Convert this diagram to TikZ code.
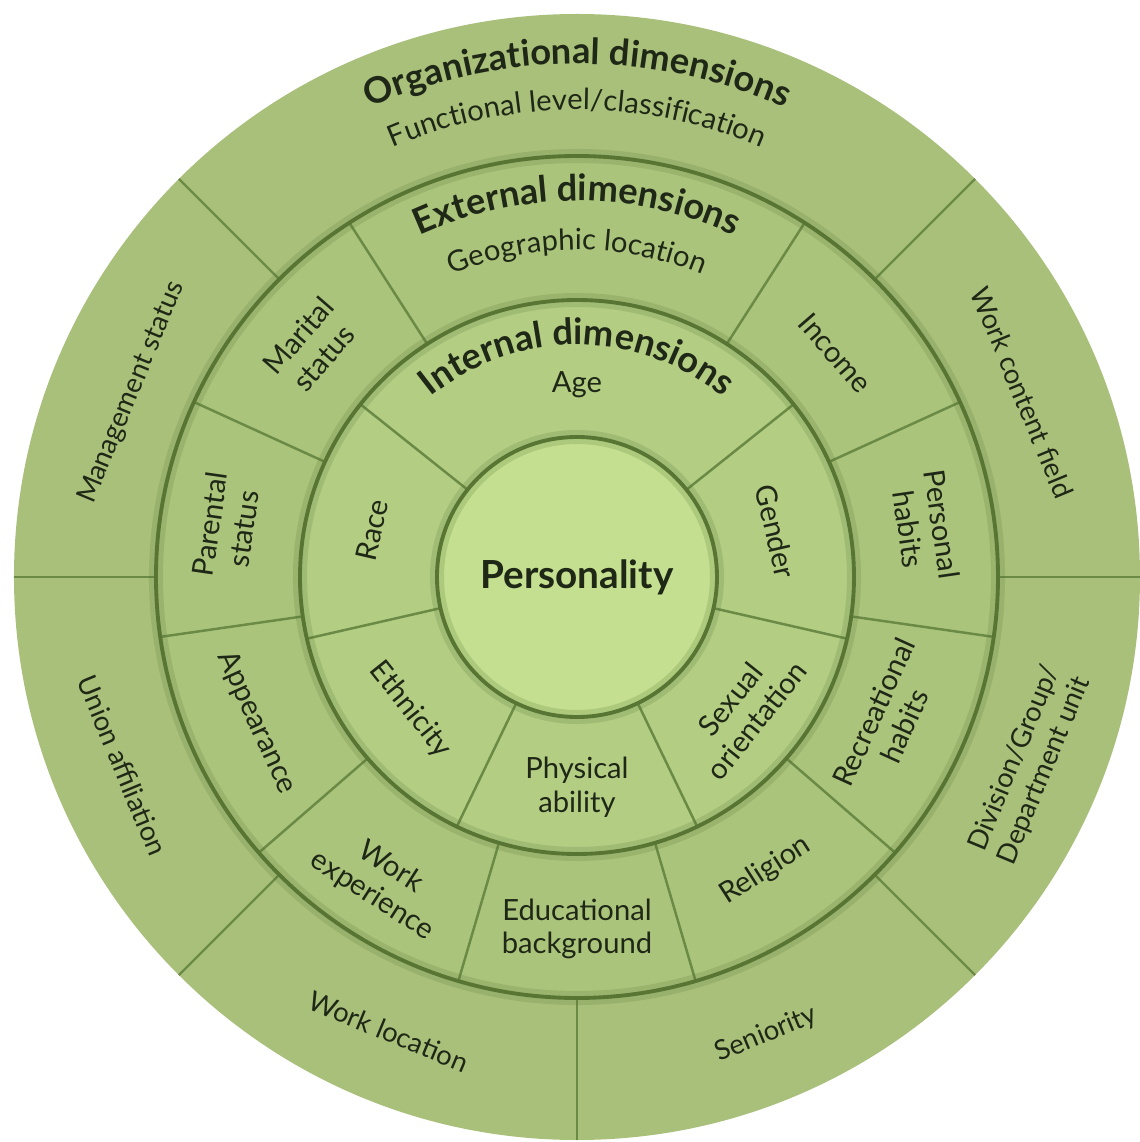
\documentclass[tikz,border=0pt]{standalone}
\usepackage{fontspec}
\setmainfont{Lato}
\usepackage{xcolor}
\usetikzlibrary{decorations.text}

\definecolor{orgfill}{HTML}{A9C07A}
\definecolor{extfill}{HTML}{ABC47C}
\definecolor{intfill}{HTML}{B3CD83}
\definecolor{corefill}{HTML}{C3DF8F}
\definecolor{ringdark}{HTML}{587534}
\definecolor{splitline}{HTML}{6A8A45}
\definecolor{inktext}{HTML}{1F2716}

\newcommand{\segfont}{\fontsize{8.3}{9.6}\selectfont}
\newcommand{\orgfont}{\fontsize{7.8}{9.2}\selectfont}
\newcommand{\headfont}{\fontsize{10.3}{12}\selectfont\bfseries}

\tikzset{
  segtext/.style={font=\segfont, text=inktext, align=center, inner sep=0pt},
  orgtext/.style={segtext, font=\orgfont},
  ringedge/.style={draw=ringdark, line width=1.1pt},
  ringshade/.style={draw=ringdark, line width=4pt, opacity=0.2},
  split/.style={draw=splitline, line width=0.7pt},
  arctext/.style 2 args={decorate, decoration={text along path, text align=center,
      text color=inktext, text={|#1|#2}}},
}

\begin{document}
\begin{tikzpicture}[x=0.01cm, y=0.01cm]
  \fill[white] (-577,-565) rectangle (563,577);
  \useasboundingbox (-577,-565) rectangle (563,577);

  % rings
  \fill[orgfill] (0,0) circle[radius=563];
  \fill[extfill] (0,0) circle[radius=421];
  \fill[intfill] (0,0) circle[radius=277];
  \fill[corefill] (0,0) circle[radius=140];

  % segment borders
  \begin{scope}[split]
    \draw (0:421) -- (0:563);
    \draw (45:421) -- (45:563);
    \draw (135:421) -- (135:563);
    \draw (180:421) -- (180:563);
    \draw (225:421) -- (225:563);
    \draw (270:421) -- (270:563);
    \draw (315:421) -- (315:563);
    \draw (24.55:277) -- (24.55:421);
    \draw (57.27:277) -- (57.27:421);
    \draw (122.73:277) -- (122.73:421);
    \draw (155.45:277) -- (155.45:421);
    \draw (188.18:277) -- (188.18:421);
    \draw (220.91:277) -- (220.91:421);
    \draw (253.64:277) -- (253.64:421);
    \draw (286.36:277) -- (286.36:421);
    \draw (319.09:277) -- (319.09:421);
    \draw (351.82:277) -- (351.82:421);
    \draw (38.57:140) -- (38.57:277);
    \draw (141.43:140) -- (141.43:277);
    \draw (192.86:140) -- (192.86:277);
    \draw (244.29:140) -- (244.29:277);
    \draw (295.71:140) -- (295.71:277);
    \draw (347.14:140) -- (347.14:277);
  \end{scope}

  % ring edges
  \draw[ringshade] (0,0) circle[radius=421] (0,0) circle[radius=277] (0,0) circle[radius=140];
  \draw[ringedge] (0,0) circle[radius=421] (0,0) circle[radius=277] (0,0) circle[radius=140];

  % curved headings
  \path[arctext={\headfont}{Organizational dimensions}] (150:513) arc[start angle=150, end angle=30, radius=513];
  \path[arctext={\segfont}{Functional level/classification}] (150:467) arc[start angle=150, end angle=30, radius=467];
  \path[arctext={\headfont}{External dimensions}] (150:376) arc[start angle=150, end angle=30, radius=376];
  \path[arctext={\segfont}{Geographic location}] (150:327) arc[start angle=150, end angle=30, radius=327];
  \path[arctext={\headfont}{Internal dimensions}] (160:232) arc[start angle=160, end angle=20, radius=232];

  \draw
    (0,0) node[segtext, font=\fontsize{11}{13}\selectfont\bfseries] (core) {Personality}
    (90:192) node[segtext] (age) {Age}
    (167.1:210) node[segtext, rotate=77.1] (race) {Race}
    (218.6:213) node[segtext, rotate=-51.4] (ethnic) {Ethnicity}
    (270:210) node[segtext] (physical) {Physical\\ability}
    (321.4:213) node[segtext, rotate=51.4] (sexual) {Sexual\\orientation}
    (12.9:204) node[segtext, rotate=-77.1] (gender) {Gender}
    (139.1:352) node[segtext, rotate=49.1] (marital) {Marital\\status}
    (171.8:354) node[segtext, rotate=81.8] (parental) {Parental\\status}
    (204.5:352) node[segtext, rotate=-65.5] (appear) {Appearance}
    (237.3:362) node[segtext, rotate=-32.7] (workexp) {Work\\experience}
    (270:352) node[segtext] (edu) {Educational\\background}
    (302.7:349) node[segtext, rotate=32.7] (religion) {Religion}
    (335.5:343) node[segtext, rotate=65.5] (recre) {Recreational\\habits}
    (8.2:352) node[segtext, rotate=-81.8] (personal) {Personal\\habits}
    (40.9:342) node[segtext, rotate=-49.1] (income) {Income}
    (157.5:482) node[orgtext, rotate=67.5] (mgmt) {Management status}
    (22.5:482) node[orgtext, rotate=-67.5] (workfield) {Work content field}
    (202.5:492) node[orgtext, rotate=-67.5] (union) {Union affiliation}
    (247.5:492) node[orgtext, rotate=-22.5] (workloc) {Work location}
    (292.5:495) node[orgtext, rotate=22.5] (senior) {Seniority}
    (337.5:490) node[orgtext, rotate=67.5] (division) {Division/Group/\\Department unit};
\end{tikzpicture}
\end{document}
